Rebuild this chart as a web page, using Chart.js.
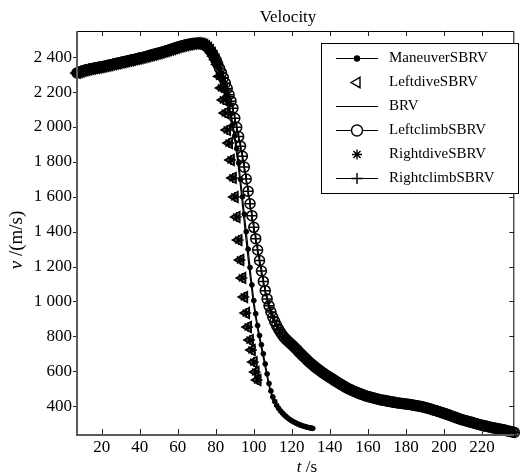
<!DOCTYPE html>
<html><head><meta charset="utf-8">
<script src="https://cdn.jsdelivr.net/npm/chart.js@4/dist/chart.umd.min.js"></script>
<style>html,body{margin:0;padding:0;background:#fff;}#wrap{width:522px;height:474px;}</style>
</head><body><div id="wrap"><canvas id="c" width="522" height="474"></canvas></div>
<script>
// ---------- data ----------
const chartTitle = 'Velocity';
const seriesNames = ['ManeuverSBRV','LeftdiveSBRV','BRV','LeftclimbSBRV','RightdiveSBRV','RightclimbSBRV'];
const xTickValues = [20,40,60,80,100,120,140,160,180,200,220];
const yTickValues = [400,600,800,1000,1200,1400,1600,1800,2000,2200,2400];

// shared boost / glide segment (all vehicles identical), t = 7..81 s
const commonT = [7,8,9,10,11,12,13,14,15,16,17,18,19,20,21,22,23,24,25,26,27,28,29,30,31,32,33,34,35,36,37,38,39,40,41,42,43,44,45,46,
  47,48,49,50,51,52,53,54,55,56,57,58,59,60,61,62,63,64,65,66,67,68,69,70,71,72,73,74,75,76,77,78,79,80,81];
const commonV = [2310,2314,2318,2322,2325,2328,2330,2333,2335,2337,
  2339,2341,2343,2345,2347,2350,2352,2355,2357,2360,
  2362,2365,2367,2370,2372,2375,2377,2380,2382,2385,
  2387,2390,2392,2395,2397,2400,2403,2406,2409,2412,
  2415,2418,2421,2424,2427,2430,2433,2437,2440,2444,
  2447,2451,2454,2458,2461,2464,2467,2470,2472,2474,
  2476,2478,2479,2480,2479,2478,2475,2470,2463,2453,
  2440,2424,2405,2385,2360];

// ManeuverSBRV after separation
const maneuverT = [82,83,84,85,86,87,88,89,90,91,92,93,94,95,96,97,98,99,100,101,102,103,104,105,106,107,108,109,110,111,112,113,114,115,116,117,118,119,120,121,122,123,124,125,126,127,128,129,130,131];
const maneuverV = [2330,2298,2262,2222,2178,2130,2076,2016,1950,1876,1794,1700,1600,1500,1400,1300,1195,1095,1005,930,862,805,752,700,642,585,530,487,453,427,405,388,373,361,350,340,331,323,316,310,304,299,294,290,286,283,280,277,275,273];

// LeftdiveSBRV / RightdiveSBRV after separation
const leftdiveT = [82,83,84,85,86,87,88,89,90,91,92,93,94,95,96,97,98,99,100,101,102];
const leftdiveV = [2290,2224,2155,2080,1983,1908,1811,1708,1599,1484,1352,1238,1135,1026,934,854,779,722,653,596,550];
const rightdiveT = [82,83,84,85,86,87,88,89,90,91,92,93,94,95,96,97,98,99,100,101,102];
const rightdiveV = [2290,2224,2155,2080,1983,1908,1811,1708,1599,1484,1352,1238,1135,1026,934,854,779,722,653,596,550];

// BRV after separation
const brvT = [82,83,84,85,86,87,88,89,90,91,92,93,94,95,96,97,98,99,100,101,102,103,104,105,106,107,108,109,110,111,112,113,114,115,116,117,118,119,120,121,122,123,124,125,126,127,128,129,130];
const brvV = [2325,2290,2252,2210,2163,2112,2055,1992,1922,1845,1758,1660,1555,1450,1345,1245,1148,1058,975,903,840,783,730,677,622,567,515,475,443,418,398,382,368,357,347,338,329,321,315,309,303,298,293,289,285,282,279,276,274];

// LeftclimbSBRV / RightclimbSBRV after separation, t = 82..237 s
const leftclimbT = [82,83,84,85,86,87,88,89,90,91,92,93,94,95,96,97,98,99,100,101,102,103,104,105,106,107,108,109,110,111,112,113,114,115,116,
  117,118,119,120,121,122,123,124,125,126,127,128,129,130,131,132,133,134,135,136,137,138,139,140,141,142,143,144,145,146,
  147,148,149,150,151,152,153,154,155,156,157,158,159,160,161,162,163,164,165,166,167,168,169,170,171,172,173,174,175,176,
  177,178,179,180,181,182,183,184,185,186,187,188,189,190,191,192,193,194,195,196,197,198,199,200,201,202,203,204,205,206,
  207,208,209,210,211,212,213,214,215,216,217,218,219,220,221,222,223,224,225,226,227,228,229,230,231,232,233,234,235,236,237];
const leftclimbV = [2335,2310,2282,2252,2220,2185,2148,2108,2050,1998,1945,1890,1832,1770,1702,1632,1560,1492,1425,1360,1295,1235,1175,1115,1062,1015,975,940,910,885,862,842,824,808,794,
  783,772,762,752,742,731,720,708,697,686,
  676,665,655,645,636,627,618,610,602,594,
  586,579,572,565,558,551,544,537,530,524,
  517,511,505,499,494,489,484,480,475,471,
  467,463,459,456,453,450,447,444,441,439,
  436,434,432,430,428,426,424,422,420,419,
  417,416,414,413,411,410,408,406,404,402,
  400,398,396,393,390,387,384,380,377,374,
  370,367,363,360,356,352,348,344,340,336,
  332,328,324,321,318,315,312,309,306,303,
  300,297,294,291,288,286,283,281,278,276,
  274,272,270,268,265,263,260,258,255,253,
  250];
const rightclimbT = leftclimbT.slice();
const rightclimbV = leftclimbV.slice();

// ---------- build ----------
function pts(tA, vA) {
  const out = commonT.map((t, i) => ({x: t, y: commonV[i]}));
  tA.forEach((t, i) => out.push({x: t, y: vA[i]}));
  return out;
}
const serif = '"Liberation Serif", "Times New Roman", serif';
const clear = 'rgba(0,0,0,0)';

const datasets = [
  {label: seriesNames[0], data: pts(maneuverT, maneuverV), showLine: true, borderColor: '#000', borderWidth: 1.2,
   pointStyle: 'circle', pointRadius: 2.4, pointBackgroundColor: '#000', pointBorderColor: '#000', pointBorderWidth: 1, order: 1},
  {label: seriesNames[1], data: pts(leftdiveT, leftdiveV), showLine: false, borderColor: '#000',
   pointStyle: 'triangle', pointRotation: -90, pointRadius: 6, pointBackgroundColor: clear, pointBorderColor: '#000', pointBorderWidth: 1.7, order: 5},
  {label: seriesNames[2], data: pts(brvT, brvV), showLine: true, borderColor: '#000', borderWidth: 1.2,
   pointRadius: 0, order: 6},
  {label: seriesNames[3], data: pts(leftclimbT, leftclimbV), showLine: true, borderColor: '#000', borderWidth: 1.2,
   pointStyle: 'circle', pointRadius: 5, pointBackgroundColor: clear, pointBorderColor: '#000', pointBorderWidth: 1.5, order: 4},
  {label: seriesNames[4], data: pts(rightdiveT, rightdiveV), showLine: false, borderColor: '#000',
   pointStyle: 'star', pointRadius: 5, pointBackgroundColor: clear, pointBorderColor: '#000', pointBorderWidth: 1.6, order: 3},
  {label: seriesNames[5], data: pts(rightclimbT, rightclimbV), showLine: true, borderColor: '#000', borderWidth: 1.2,
   pointStyle: 'cross', pointRadius: 5, pointBackgroundColor: clear, pointBorderColor: '#000', pointBorderWidth: 1.5, order: 2}
];
datasets.forEach(d => { d.clip = false; d.tension = 0; d.fill = false; d.pointHoverRadius = d.pointRadius; });

function fmt(v) {
  if (v >= 1000) return Math.floor(v / 1000) + ' ' + String(v % 1000).padStart(3, '0');
  return String(v);
}

const legendMarkers = [
  {style: 'circle', r: 2.5, fill: '#000'},
  {style: 'triangle', r: 6, fill: '#fff', rot: -90},
  null,
  {style: 'circle', r: 5.5, fill: '#fff'},
  {style: 'star', r: 5, fill: '#fff'},
  {style: 'cross', r: 5.5, fill: '#fff'}
];

const decor = {
  id: 'decor',
  afterDraw(chart) {
    const {ctx, chartArea: a, scales: {x, y}} = chart;
    ctx.save();
    // top & right frame
    ctx.strokeStyle = '#000'; ctx.lineWidth = 1;
    ctx.beginPath();
    ctx.moveTo(a.left, a.top + 0.5); ctx.lineTo(a.right - 0.5, a.top + 0.5); ctx.lineTo(a.right - 0.5, a.bottom);
    ctx.stroke();
    // ticks
    ctx.strokeStyle = '#222'; ctx.lineWidth = 1;
    ctx.beginPath();
    xTickValues.forEach(v => {
      const px = Math.round(x.getPixelForValue(v)) + 0.5;
      ctx.moveTo(px, a.bottom); ctx.lineTo(px, a.bottom - 6);
      ctx.moveTo(px, a.top); ctx.lineTo(px, a.top + 5);
    });
    yTickValues.forEach(v => {
      const py = Math.round(y.getPixelForValue(v)) + 0.5;
      ctx.moveTo(a.left - 4, py); ctx.lineTo(a.left, py);
      ctx.moveTo(a.right, py); ctx.lineTo(a.right - 5, py);
    });
    ctx.stroke();
    // left & bottom axes (grey, heavier)
    ctx.strokeStyle = '#5a5a5a'; ctx.lineWidth = 2;
    ctx.beginPath();
    ctx.moveTo(a.left, a.top); ctx.lineTo(a.left, a.bottom); ctx.lineTo(a.right, a.bottom);
    ctx.stroke();

    // title
    ctx.fillStyle = '#000';
    ctx.textBaseline = 'middle'; ctx.textAlign = 'center';
    ctx.font = '17px ' + serif;
    ctx.fillText(chartTitle, 288, 18);

    // x-axis title: italic t + " /s"
    ctx.textAlign = 'left';
    ctx.font = 'italic 17px ' + serif;
    const w1 = ctx.measureText('t').width;
    ctx.font = '17px ' + serif;
    const w2 = ctx.measureText(' /s').width;
    let sx = 307 - (w1 + w2) / 2;
    ctx.font = 'italic 17px ' + serif; ctx.fillText('t', sx, 468);
    ctx.font = '17px ' + serif; ctx.fillText(' /s', sx + w1, 468);

    // y-axis title: italic v + " /(m/s)"
    ctx.save();
    ctx.translate(17, 240); ctx.rotate(-Math.PI / 2);
    ctx.font = 'italic 19px ' + serif;
    const v1 = ctx.measureText('v').width;
    ctx.font = '19px ' + serif;
    const v2 = ctx.measureText(' /(m/s)').width;
    sx = -(v1 + v2) / 2;
    ctx.font = 'italic 19px ' + serif; ctx.fillText('v', sx, 0);
    ctx.font = '19px ' + serif; ctx.fillText(' /(m/s)', sx + v1, 0);
    ctx.restore();

    // legend box
    const L = 321.5, T = 43.5, R = 518.5, B = 193.5;
    ctx.fillStyle = '#fff';
    ctx.fillRect(L, T, R - L, B - T);
    ctx.strokeStyle = '#000'; ctx.lineWidth = 1;
    ctx.strokeRect(L, T, R - L, B - T);
    const rows = [58, 82, 106, 130, 154, 178];
    chart.data.datasets.forEach((d, i) => {
      const ry = rows[i];
      if (d.showLine) {
        ctx.strokeStyle = '#000'; ctx.lineWidth = 1.2;
        ctx.beginPath(); ctx.moveTo(336, ry + 0.5); ctx.lineTo(378, ry + 0.5); ctx.stroke();
      }
      const m = legendMarkers[i];
      if (m) {
        ctx.strokeStyle = '#000'; ctx.lineWidth = 1.4; ctx.fillStyle = m.fill;
        Chart.helpers.drawPoint(ctx, {pointStyle: m.style, rotation: m.rot || 0, radius: m.r, borderWidth: 1.4}, 357, ry + 0.5);
      }
      ctx.fillStyle = '#000';
      ctx.font = '15px ' + serif; ctx.textAlign = 'left'; ctx.textBaseline = 'middle';
      ctx.fillText(d.label, 389, ry);
    });
    ctx.restore();
  }
};

new Chart(document.getElementById('c'), {
  type: 'line',
  data: {datasets},
  options: {
    responsive: false, animation: false, devicePixelRatio: 1,
    layout: {padding: {top: 31, right: 2, left: 0, bottom: 0}},
    plugins: {legend: {display: false}, title: {display: false}, tooltip: {enabled: false}},
    scales: {
      x: {type: 'linear', min: 7, max: 237,
          afterFit(s) { s.height = 39; },
          afterBuildTicks(s) { s.ticks = xTickValues.map(v => ({value: v})); },
          grid: {display: false, drawTicks: false}, border: {display: false},
          ticks: {padding: 2, color: '#000', font: {family: serif, size: 17}, maxRotation: 0, autoSkip: false, callback: v => fmt(v)}},
      y: {type: 'linear', min: 235, max: 2550,
          afterFit(s) { s.width = 77; },
          afterBuildTicks(s) { s.ticks = yTickValues.map(v => ({value: v})); },
          grid: {display: false, drawTicks: false}, border: {display: false},
          ticks: {padding: 5, color: '#000', font: {family: serif, size: 17}, autoSkip: false, callback: v => fmt(v)}}
    }
  },
  plugins: [decor]
});
</script>
</body></html>
